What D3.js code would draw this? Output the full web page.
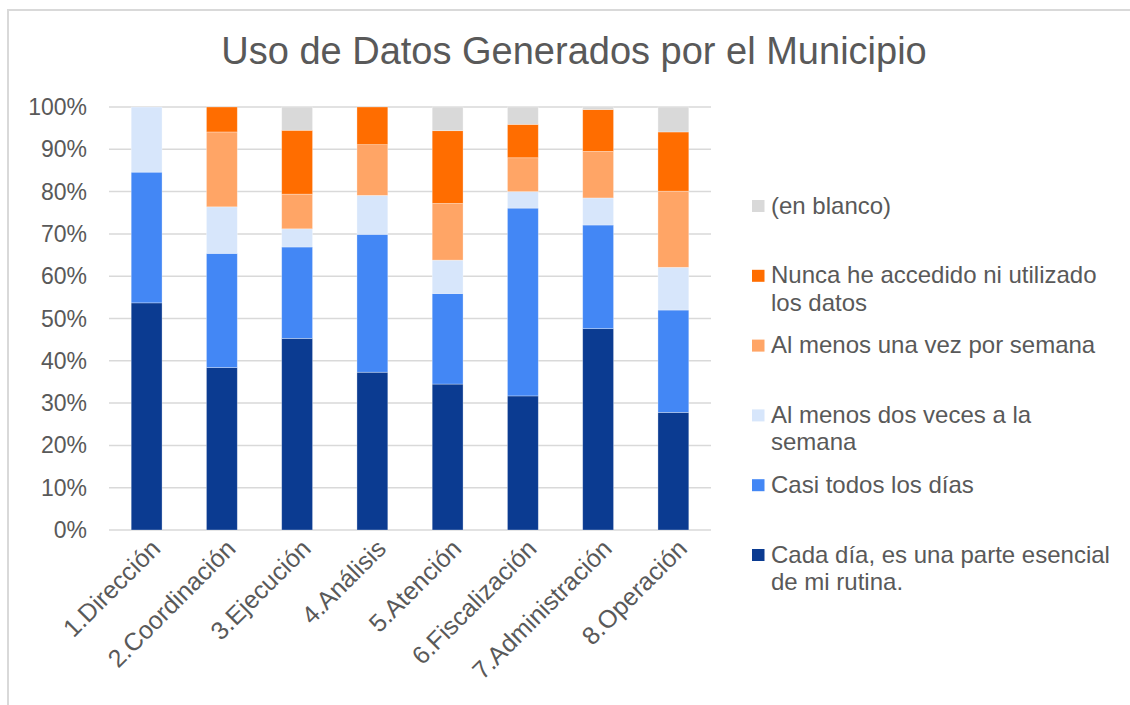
<!DOCTYPE html>
<html>
<head>
<meta charset="utf-8">
<script src="https://cdn.jsdelivr.net/npm/d3@7"></script>
<style>
  body { margin: 0; background: #fff; }
  svg { display: block; font-family: "Liberation Sans", Arial, sans-serif; }
</style>
</head>
<body>
<div id="chart"></div>
<script>
const categories = ["1.Dirección", "2.Coordinación", "3.Ejecución", "4.Análisis",
  "5.Atención", "6.Fiscalización", "7.Administración", "8.Operación"];

// percent of answers, bottom segment first
const cadaDia   = [53.7, 38.4, 45.3, 37.3, 34.5, 31.7, 47.6, 27.8];
const casiTodos = [30.9, 27.0, 21.6, 32.6, 21.4, 44.4, 24.5, 24.2];
const dosVeces  = [15.4, 11.0, 4.3, 9.2, 7.9, 3.9, 6.4, 10.1];
const unaVez    = [0, 17.7, 8.2, 12.0, 13.4, 8.0, 11.0, 18.0];
const nunca     = [0, 5.9, 15.1, 8.9, 17.2, 7.9, 9.9, 14.0];
const enBlanco  = [0, 0, 5.5, 0, 5.6, 4.1, 0.6, 5.9];

const seriesNames = [
  "Cada día, es una parte esencial de mi rutina.",
  "Casi todos los días",
  "Al menos dos veces a la semana",
  "Al menos una vez por semana",
  "Nunca he accedido ni utilizado los datos",
  "(en blanco)"
];
// how the legend wraps each name
const legendLines = [
  ["Cada día, es una parte esencial", "de mi rutina."],
  ["Casi todos los días"],
  ["Al menos dos veces a la", "semana"],
  ["Al menos una vez por semana"],
  ["Nunca he accedido ni utilizado", "los datos"],
  ["(en blanco)"]
];
const yTicks = [0, 10, 20, 30, 40, 50, 60, 70, 80, 90, 100];

const colors = ["#0b3b91", "#4387f5", "#d7e6fb", "#ffa566", "#ff6d00", "#d9d9d9"];
const textColor = "#595959";

const width = 1130;
const height = 705;

const seriesValues = [cadaDia, casiTodos, dosVeces, unaVez, nunca, enBlanco];
const rows = categories.map((c, i) => {
  const row = { category: c };
  seriesNames.forEach((s, j) => { row[s] = seriesValues[j][i]; });
  return row;
});
const stacked = d3.stack().keys(seriesNames)(rows);

const svg = d3.select("#chart")
  .append("svg")
  .attr("width", width)
  .attr("height", height);

// outer frame (only top and left edges show)
svg.append("path")
  .attr("d", "M8,705 L8,10 L1130,10")
  .attr("fill", "none")
  .attr("stroke", "#d9d9d9")
  .attr("stroke-width", 2);

svg.append("text")
  .attr("x", 574)
  .attr("y", 64)
  .attr("text-anchor", "middle")
  .attr("font-size", 38)
  .attr("fill", textColor)
  .text("Uso de Datos Generados por el Municipio");

const x = d3.scaleBand()
  .domain(categories)
  .range([109, 711])
  .paddingInner(0.59)
  .paddingOuter(0.295);

const y = d3.scaleLinear()
  .domain([0, 100])
  .range([530, 107]);

// gridlines
svg.append("g")
  .selectAll("line")
  .data(yTicks)
  .join("line")
  .attr("x1", 109)
  .attr("x2", 711)
  .attr("y1", (d) => y(d))
  .attr("y2", (d) => y(d))
  .attr("stroke", "#d9d9d9")
  .attr("stroke-width", 1.5);

svg.append("g")
  .selectAll("text")
  .data(yTicks)
  .join("text")
  .attr("x", 87)
  .attr("y", (d) => y(d))
  .attr("dy", "0.35em")
  .attr("text-anchor", "end")
  .attr("font-size", 23)
  .attr("fill", textColor)
  .text((d) => d + "%");

svg.append("g")
  .selectAll("g")
  .data(stacked)
  .join("g")
  .attr("fill", (d, i) => colors[i])
  .selectAll("rect")
  .data((d) => d)
  .join("rect")
  .attr("x", (d) => x(d.data.category))
  .attr("width", x.bandwidth())
  .attr("y", (d) => y(d[1]))
  .attr("height", (d) => y(d[0]) - y(d[1]))
  .attr("stroke", "#ffffff")
  .attr("stroke-opacity", 0.4)
  .attr("stroke-width", 0.75);

svg.append("g")
  .selectAll("text")
  .data(categories)
  .join("text")
  .attr("transform", (d) => `translate(${x(d) + x.bandwidth() / 2 + 9},${544}) rotate(-45)`)
  .attr("text-anchor", "end")
  .attr("dy", "0.35em")
  .attr("font-size", 25)
  .attr("fill", textColor)
  .text((d) => d);

// legend, top item is the last series
const legend = svg.append("g")
  .selectAll("g")
  .data(seriesNames.map((s, i) => i).reverse())
  .join("g")
  .attr("transform", (d, k) => `translate(752,${200 + 69.8 * k})`);

legend.append("rect")
  .attr("width", 12.5)
  .attr("height", 12)
  .attr("fill", (d) => colors[d]);

legend.append("text")
  .attr("font-size", 24)
  .attr("fill", textColor)
  .selectAll("tspan")
  .data((d) => legendLines[d])
  .join("tspan")
  .attr("x", 19)
  .attr("y", (d, i) => 13.5 + 27.5 * i)
  .text((d) => d);
</script>
</body>
</html>
